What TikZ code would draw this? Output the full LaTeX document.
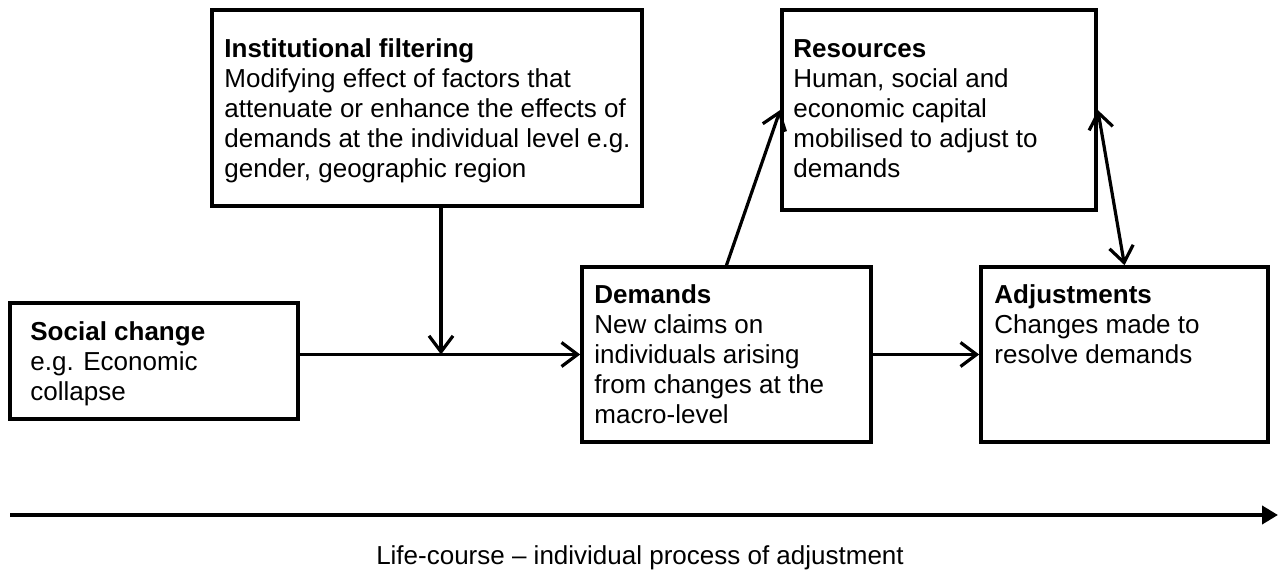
\documentclass[tikz,border=0pt]{standalone}
\usepackage{fontspec}
\setmainfont{Liberation Sans}
\usetikzlibrary{arrows.meta}
\tikzset{
  box/.style={draw, line width=1.8pt, inner sep=0pt},
  txt/.style={align=left, inner sep=0pt, anchor=north west, font=\fontsize{13}{15}\selectfont},
  link/.style={line width=1.6pt, -{Straight Barb[length=8pt,width=12pt]}},
  twolink/.style={line width=1.6pt, {Straight Barb[length=8pt,width=12pt]}-{Straight Barb[length=8pt,width=12pt]}},
}
\begin{document}
\begin{tikzpicture}[x=0.5pt,y=-0.5pt]
  \useasboundingbox (0,0) rectangle (1280,582);
  % boxes
  \node [box, minimum width=144pt, minimum height=58pt] (soc) at (154,361) {};
  \node [box, minimum width=215pt, minimum height=98pt] (inst) at (427,108) {};
  \node [box, minimum width=144.5pt, minimum height=87.5pt] (dem) at (726.5,354.5) {};
  \node [box, minimum width=157pt, minimum height=100pt] (res) at (939,110) {};
  \node [box, minimum width=143.5pt, minimum height=87.5pt] (adj) at (1124.5,354.5) {};
  % texts
  \node [txt] (soctxt) at (30,321) {\textbf{Social change}\\e.g. Economic\\collapse};
  \node [txt] (insttxt) at (224,38) {\textbf{Institutional filtering}\\Modifying effect of factors that\\attenuate or enhance the effects of\\demands at the individual level e.g.\\gender, geographic region};
  \node [txt] (demtxt) at (594,284) {\textbf{Demands}\\New claims on\\individuals arising\\from changes at the\\macro-level};
  \node [txt] (restxt) at (793,39) {\textbf{Resources}\\Human, social and\\economic capital\\mobilised to adjust to\\demands};
  \node [txt] (adjtxt) at (994,284) {\textbf{Adjustments}\\Changes made to\\resolve demands};
  % connectors
  \coordinate (meet) at (441,354.5);
  \draw [link] (soc.east |- dem.west) -- (dem.west);
  \draw [link] (inst.south -| meet) -- (meet);
  \draw [link] (dem.north) -- (res.west);
  \draw [link] (dem.east) -- (adj.west);
  \draw [twolink] (res.east) -- (adj.north);
  % life-course axis
  \coordinate (lcstart) at (10,515);
  \coordinate (lcend) at (1278,515);
  \draw [line width=2pt, -{Triangle[length=8pt,width=9pt]}] (lcstart) -- (lcend);
  \node [font=\fontsize{13}{15}\selectfont, anchor=base] (lclabel) at (640,565) {Life-course -- individual process of adjustment};
\end{tikzpicture}
\end{document}
